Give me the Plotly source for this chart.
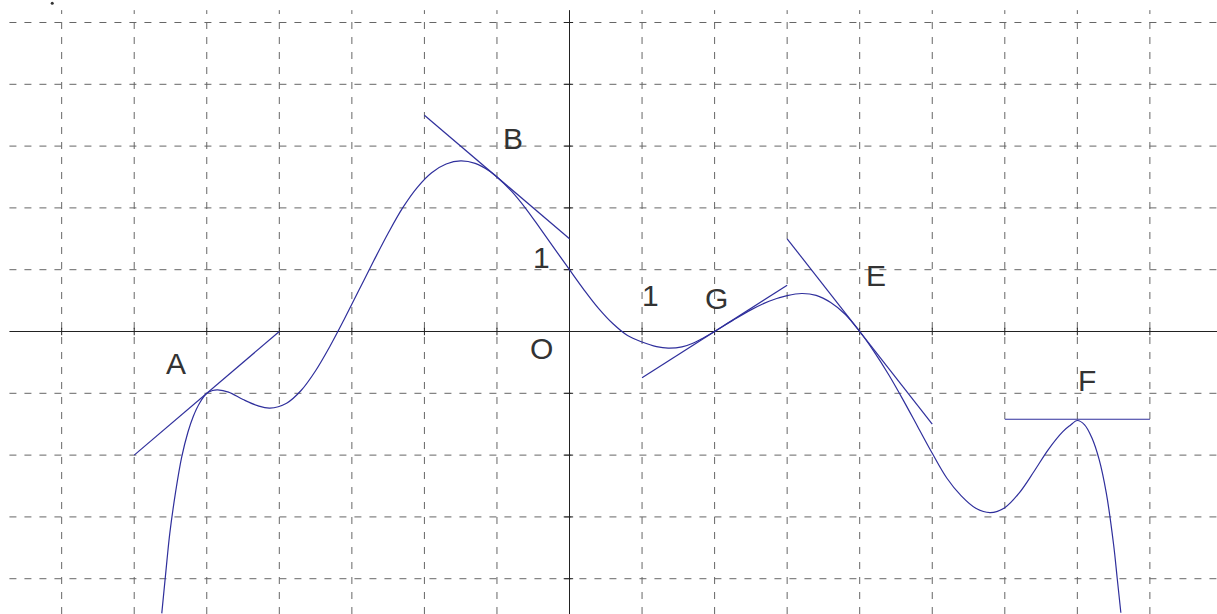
import plotly.graph_objects as go

# Curve points
curve_x = [-5.62, -5.55, -5.51, -5.43, -5.345, -5.26, -5.185, -5.1, -5.0, -4.92, -4.85,
           -4.7, -4.5, -4.3, -4.13, -3.9, -3.7, -3.5, -3.3, -3.1, -2.9, -2.7,
           -2.5, -2.3, -2.1, -1.9, -1.7, -1.5, -1.3, -1.1, -1.0, -0.8, -0.6, -0.4,
           -0.2, 0.0, 0.2, 0.4, 0.6, 0.8, 1.0, 1.2, 1.36, 1.55, 1.7, 1.85, 2.0,
           2.25, 2.5, 2.75, 3.0, 3.2, 3.4, 3.6, 3.8, 4.0, 4.2, 4.4, 4.6, 4.8,
           5.0, 5.2, 5.4, 5.6, 5.8, 6.0, 6.2, 6.4, 6.6, 6.8, 6.9, 7.0, 7.1,
           7.2, 7.3, 7.4, 7.5, 7.55, 7.6]
curve_y = [-4.56, -3.72, -3.27, -2.6, -2.03, -1.63, -1.37, -1.16, -1.0, -0.955, -0.945,
           -0.98, -1.1, -1.2, -1.24, -1.16, -0.955, -0.635, -0.235, 0.21, 0.675, 1.14,
           1.59, 2.0, 2.33, 2.57, 2.71, 2.76, 2.72, 2.595, 2.5, 2.27, 1.985, 1.66,
           1.33, 1.0, 0.675, 0.375, 0.125, -0.065, -0.17, -0.245, -0.27, -0.25, -0.19, -0.1, 0.0,
           0.18, 0.35, 0.49, 0.58, 0.615, 0.585, 0.47, 0.28, 0.0, -0.33, -0.7, -1.11, -1.54,
           -1.97, -2.37, -2.66, -2.86, -2.93, -2.85, -2.61, -2.27, -1.91, -1.62, -1.52, -1.44, -1.51,
           -1.72, -2.07, -2.62, -3.45, -4.0, -4.55]

# Tangent points and slopes
tan_x = [-5, -1, 2, 4, 7]
tan_y = [-1, 2.5, 0, 0, -1.42]
tan_slope = [1, -1, 0.75, -1.5, 0]
tan_half = 1.0

# Labels
label_text = ["A", "B", "1", "O", "1", "G", "E", "F"]
label_x = [-5.42, -0.78, -0.39, -0.38, 1.11, 2.02, 4.22, 7.13]
label_y = [-0.525, 3.13, 1.19, -0.28, 0.575, 0.54, 0.9, -0.785]

# Grid values
grid_x = list(range(-7, 9))
grid_y = list(range(-4, 6))

X_MIN, X_MAX = -7.85, 8.925
Y_MIN, Y_MAX = -4.571, 5.364
GRID_LEFT, GRID_TOP = -7.72, 5.2

CURVE_COLOR = "#2f2f9c"
GRID_COLOR = "#666666"
AXIS_COLOR = "#222222"

fig = go.Figure()

shapes = []
for gx in grid_x:
    if gx == 0:
        continue
    shapes.append(dict(type="line", x0=gx, x1=gx, y0=Y_MIN, y1=GRID_TOP, layer="below",
                       line=dict(color=GRID_COLOR, width=1, dash="7px,8px")))
for gy in grid_y:
    if gy == 0:
        continue
    shapes.append(dict(type="line", x0=GRID_LEFT, x1=X_MAX, y0=gy, y1=gy, layer="below",
                       line=dict(color=GRID_COLOR, width=1, dash="7px,8px")))
# axes
shapes.append(dict(type="line", x0=GRID_LEFT, x1=X_MAX, y0=0, y1=0, layer="below",
                   line=dict(color=AXIS_COLOR, width=1)))
shapes.append(dict(type="line", x0=0, x1=0, y0=Y_MIN, y1=GRID_TOP, layer="below",
                   line=dict(color=AXIS_COLOR, width=1)))
# ticks
for gx in grid_x:
    if gx == 0:
        continue
    shapes.append(dict(type="line", x0=gx, x1=gx, y0=-0.06, y1=0.06, layer="below",
                       line=dict(color=AXIS_COLOR, width=1)))
for gy in grid_y:
    if gy == 0:
        continue
    shapes.append(dict(type="line", x0=-0.08, x1=0.05, y0=gy, y1=gy, layer="below",
                       line=dict(color=AXIS_COLOR, width=1)))

fig.add_trace(go.Scatter(x=curve_x, y=curve_y, mode="lines",
                         line=dict(color=CURVE_COLOR, width=1.2, shape="spline", smoothing=1.0),
                         hoverinfo="skip", showlegend=False))

for px, py, m in zip(tan_x, tan_y, tan_slope):
    xs = [px - tan_half, px + tan_half]
    ys = [py - m * tan_half, py + m * tan_half]
    fig.add_trace(go.Scatter(x=xs, y=ys, mode="lines",
                             line=dict(color=CURVE_COLOR, width=1.2),
                             hoverinfo="skip", showlegend=False))

# small dot at top-left
fig.add_trace(go.Scatter(x=[-7.13], y=[5.31], mode="markers",
                         marker=dict(color="#333333", size=3),
                         hoverinfo="skip", showlegend=False))

for t, lx, ly in zip(label_text, label_x, label_y):
    fig.add_annotation(x=lx, y=ly, text=t, showarrow=False,
                       font=dict(family="Liberation Sans, Arial, sans-serif", size=30, color="#333333"))

fig.update_layout(
    width=1217, height=614,
    margin=dict(l=0, r=0, t=0, b=0),
    paper_bgcolor="white", plot_bgcolor="white",
    shapes=shapes,
    xaxis=dict(range=[X_MIN, X_MAX], visible=False, fixedrange=True),
    yaxis=dict(range=[Y_MIN, Y_MAX], visible=False, fixedrange=True),
    showlegend=False,
)

fig.write_html("out.html", config={"displayModeBar": False},
               post_script="document.body.style.margin='0px';document.body.style.overflow='hidden';")
